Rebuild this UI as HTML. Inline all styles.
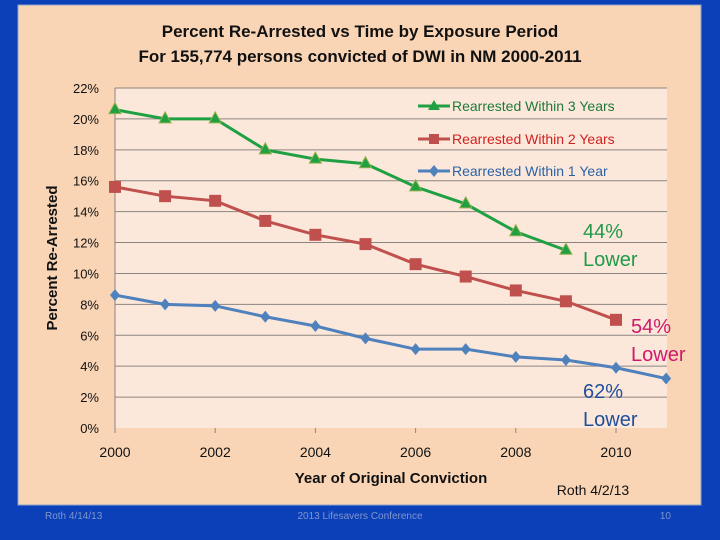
<!DOCTYPE html>
<html><head><meta charset="utf-8"><style>
body{margin:0;width:720px;height:540px;background:#0b40b8;overflow:hidden;font-family:"Liberation Sans",sans-serif}
svg{position:absolute;left:0;top:0}
</style></head><body>
<svg width="720" height="540">
<rect x="18" y="5" width="683" height="500" fill="#f9d5b6" stroke="#8fa3c9" stroke-width="1"/>
<rect x="115" y="88" width="552" height="340" fill="#fce8da"/>
<text x="360" y="37" text-anchor="middle" font-size="17" font-weight="bold" fill="#111">Percent Re-Arrested vs Time by Exposure Period</text>
<text x="360" y="62" text-anchor="middle" font-size="17" font-weight="bold" fill="#111">For 155,774 persons convicted of DWI in NM 2000-2011</text>
<g id="grid"></g><g id="series"></g>
<text transform="translate(57,258) rotate(-90)" text-anchor="middle" font-size="15" font-weight="bold" fill="#111">Percent Re-Arrested</text>
<text x="391" y="483" text-anchor="middle" font-size="15" font-weight="bold" fill="#111">Year of Original Conviction</text>
<text x="593" y="495" text-anchor="middle" font-size="14" fill="#111">Roth 4/2/13</text>
<text x="583" y="238" font-size="20" fill="#1f9a4a">44%</text>
<text x="583" y="266" font-size="20" fill="#1f9a4a">Lower</text>
<text x="631" y="333" font-size="20" fill="#d0186a">54%</text>
<text x="631" y="361" font-size="20" fill="#d0186a">Lower</text>
<text x="583" y="398" font-size="20" fill="#1f4e9a">62%</text>
<text x="583" y="426" font-size="20" fill="#1f4e9a">Lower</text>
<g>
<line x1="418" y1="106" x2="450" y2="106" stroke="#1fa043" stroke-width="3"/><polygon points="434,100 440,110 428,110" fill="#1fa043"/>
<text x="452" y="111" font-size="14" fill="#1f7a3a">Rearrested Within 3 Years</text>
<line x1="418" y1="139" x2="450" y2="139" stroke="#c0504d" stroke-width="3"/><rect x="429" y="134" width="10" height="10" fill="#c0504d"/>
<text x="452" y="144" font-size="14" fill="#d02020">Rearrested Within 2 Years</text>
<line x1="418" y1="171" x2="450" y2="171" stroke="#4f81bd" stroke-width="3"/><polygon points="434,165 439,171 434,177 429,171" fill="#4f81bd"/>
<text x="452" y="176" font-size="14" fill="#2a62a8">Rearrested Within 1 Year</text>
</g>
<text x="45" y="519" font-size="10" fill="#7f95cc">Roth 4/14/13</text>
<text x="360" y="519" text-anchor="middle" font-size="10" fill="#7f95cc">2013 Lifesavers Conference</text>
<text x="671" y="519" text-anchor="end" font-size="10" fill="#7f95cc">10</text>
</svg>
<script>
const years=[2000,2001,2002,2003,2004,2005,2006,2007,2008,2009,2010,2011];
const within3=[20.6,20.0,20.0,18.0,17.4,17.1,15.6,14.5,12.7,11.5];
const within2=[15.6,15.0,14.7,13.4,12.5,11.9,10.6,9.8,8.9,8.2,7.0];
const within1=[8.6,8.0,7.9,7.2,6.6,5.8,5.1,5.1,4.6,4.4,3.9,3.2];
const yTicks=[0,2,4,6,8,10,12,14,16,18,20,22];
const xTicks=[2000,2002,2004,2006,2008,2010];
const NS="http://www.w3.org/2000/svg";
const xs=y=>115+(y-2000)*50.1;
const ys=v=>428-v*(340/22);
function mk(t,a,p){const e=document.createElementNS(NS,t);for(const k in a)e.setAttribute(k,a[k]);p.appendChild(e);return e;}
const g=document.getElementById('grid'),s=document.getElementById('series');
yTicks.forEach(v=>{
 if(v>0){const l=mk('line',{x1:115,x2:667,y1:ys(v),y2:ys(v),stroke:'#8c8480','stroke-width':1},g);
 
 }
 const t=mk('text',{x:99,y:ys(v)+5,'text-anchor':'end','font-size':13,fill:'#111'},g);t.textContent=v+'%';
 
 
});
mk('line',{x1:115,x2:115,y1:88,y2:432,stroke:'#8c8480'},g);
xTicks.forEach(y=>{
 mk('line',{x1:xs(y),x2:xs(y),y1:428,y2:433,stroke:'#8c8480'},g);
 const t=mk('text',{x:xs(y),y:457,'text-anchor':'middle','font-size':14,fill:'#111'},g);t.textContent=y;
 
 
});
function series(data,color,shape,name){
 const pts=data.map((v,i)=>xs(years[i])+','+ys(v)).join(' ');
 const pl=mk('polyline',{points:pts,fill:'none',stroke:color,'stroke-width':3},s);
 
 
 data.forEach((v,i)=>{const x=xs(years[i]),y=ys(v);let m;
  if(shape==='tri')m=mk('polygon',{points:`${x},${y-7} ${x+6},${y+4} ${x-6},${y+4}`,fill:color,stroke:'#8fb04a','stroke-width':1},s);
  else if(shape==='sq')m=mk('rect',{x:x-6,y:y-6,width:12,height:12,fill:color},s);
  else m=mk('polygon',{points:`${x},${y-6} ${x+5},${y} ${x},${y+6} ${x-5},${y}`,fill:color},s);
  
  });
}
series(within1,'#4f81bd','dia','within-1-year');
series(within2,'#c0504d','sq','within-2-years');
series(within3,'#1fa043','tri','within-3-years');
</script>
</body></html>
